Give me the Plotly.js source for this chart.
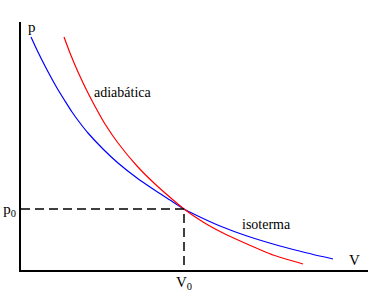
<!DOCTYPE html>
<html>
<head>
<meta charset="utf-8">
<script src="https://cdn.plot.ly/plotly-3.0.1.min.js"></script>
<style>html,body{margin:0;padding:0;background:#fff;}#chart{width:370px;height:292px;}</style>
</head>
<body>
<div id="chart"></div>
<script>
// Values (arbitrary V and p units)
const isoV = [10,16,24,36,44,51,59,67,82,97,116,132,149,163,179,199,226,259,286,312];
const isoP = [233,220,204,182,169,158,147,137,121,107,92,81,70,61,53,44,34,24,17,11];
const adiV = [43,49,57,67,76,84,97,116,134,151,163,182,202,226,252,282];
const adiP = [233,217,198,177,160,146,127,104,86,71,61,48,37,26,15,6];
const V0 = 163;
const p0 = 61;
const tickV = ["V<sub>0</sub>"];
const tickP = ["p<sub>0</sub>"];

const serif = "'Liberation Serif', 'DejaVu Serif', serif";

const traces = [
  {x: isoV, y: isoP, mode: "lines", line: {color: "#0000ff", width: 1.2, shape: "spline", smoothing: 0.6}, hoverinfo: "skip"},
  {x: adiV, y: adiP, mode: "lines", line: {color: "#ff0000", width: 1.2, shape: "spline", smoothing: 0.6}, hoverinfo: "skip"},
  {x: [0, V0, V0], y: [p0, p0, 0], mode: "lines", line: {color: "#000", width: 1.5, dash: "9px,5px"}, hoverinfo: "skip"}
];

const layout = {
  width: 370, height: 292,
  margin: {l: 21, r: 2, t: 22, b: 22},
  paper_bgcolor: "#fff", plot_bgcolor: "#fff",
  showlegend: false,
  font: {family: serif, color: "#000"},
  xaxis: {range: [0, 347], showgrid: false, zeroline: false, showline: true, linecolor: "#000", linewidth: 2,
          tickmode: "array", tickvals: [V0], ticktext: tickV, ticks: "", ticklen: 0, ticklabelstandoff: -3,
          tickfont: {family: serif, size: 15, color: "#000"}, fixedrange: true},
  yaxis: {range: [0, 248], showgrid: false, zeroline: false, showline: true, linecolor: "#000", linewidth: 2,
          tickmode: "array", tickvals: [p0], ticktext: tickP, ticks: "", ticklen: 0,
          tickfont: {family: serif, size: 15, color: "#000"}, fixedrange: true},
  annotations: [
    {xref: "x", yref: "paper", x: 5, y: 0.94, xanchor: "left", yanchor: "bottom", text: "p", showarrow: false, font: {family: serif, size: 15, color: "#000"}},
    {xref: "x", yref: "paper", x: 326, y: 0.0, xanchor: "left", yanchor: "bottom", text: "V", showarrow: false, font: {family: serif, size: 15, color: "#000"}},
    {xref: "x", yref: "y", x: 102, y: 178, text: "adiabática", showarrow: false, font: {family: serif, size: 14, color: "#000"}},
    {xref: "x", yref: "y", x: 245, y: 46, text: "isoterma", showarrow: false, font: {family: serif, size: 14, color: "#000"}}
  ]
};

Plotly.newPlot("chart", traces, layout, {displayModeBar: false, staticPlot: true});
</script>
</body>
</html>
